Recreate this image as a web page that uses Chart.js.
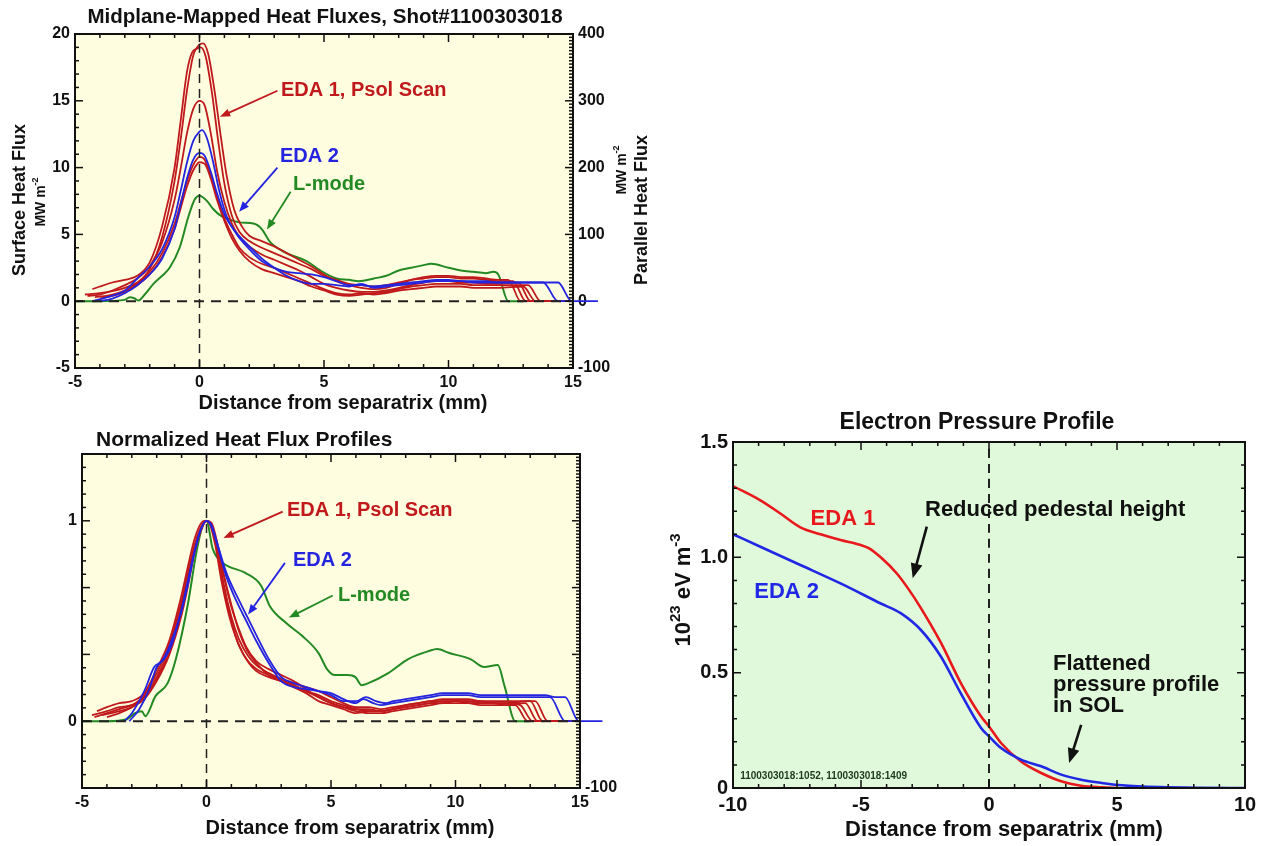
<!DOCTYPE html>
<html>
<head>
<meta charset="utf-8">
<script src="https://cdn.jsdelivr.net/npm/chart.js@4.4.1/dist/chart.umd.min.js"></script>
<style>
    body { margin: 0; background: #fff; width: 1272px; height: 846px; position: relative; overflow: hidden; }
    canvas { position: absolute; }
</style>
</head>
<body>
<canvas id="flujoSuperficie" width="660" height="420" style="left:0;top:0"></canvas>
<canvas id="flujoNormalizado" width="660" height="426" style="left:0;top:420px"></canvas>
<canvas id="presionElectronica" width="632" height="446" style="left:640px;top:400px"></canvas>
<script>
// Flujos de calor mapeados al plano medio (MW m^-2), pares [distancia mm, valor]
const psol1 = [[-4.6,0.5],[-4,0.6],[-3.5,0.75],[-3,1.0],[-2.5,1.4],[-2,2.4],[-1.5,4.8],[-1,9.0],[-0.75,12.2],[-0.5,15.8],[-0.25,18.4],[0,19.2],[0.15,19.3],[0.35,18.5],[0.6,15.8],[0.85,12.4],[1.1,9.3],[1.4,6.8],[1.7,5.6],[2,4.9],[2.5,4.5],[3,4.1],[3.5,3.6],[4,3.1],[4.5,2.6],[5,2.0],[5.5,1.5],[6,1.2],[6.5,1.0],[7,0.9],[7.5,1.0],[8,1.3],[8.5,1.6],[9,1.8],[9.5,1.9],[10,1.9],[10.5,1.8],[11,1.8],[11.5,1.7],[12,1.6],[12.4,1.6],[12.9,0],[15,0]];
const psol2 = [[-4.3,0.9],[-4,1.1],[-3.5,1.4],[-3,1.6],[-2.5,1.9],[-2,2.9],[-1.5,5.6],[-1,10.0],[-0.75,13.6],[-0.5,17.2],[-0.3,18.6],[-0.1,18.9],[0.05,19.0],[0.25,18.3],[0.5,15.6],[0.75,12.0],[1,8.8],[1.3,6.4],[1.6,5.2],[2,4.5],[2.5,4.0],[3,3.6],[3.5,3.2],[4,2.8],[4.5,2.4],[5,1.9],[5.5,1.6],[6,1.3],[6.5,1.2],[7,1.1],[7.5,1.2],[8,1.4],[8.5,1.6],[9,1.7],[9.5,1.8],[10,1.8],[10.5,1.7],[11,1.7],[11.5,1.6],[12,1.5],[12.6,1.5],[13.1,0],[15,0]];
const psol3 = [[-4.5,0.4],[-4,0.5],[-3.5,0.8],[-3,1.2],[-2.5,1.7],[-2,2.6],[-1.5,4.4],[-1,7.6],[-0.75,10.0],[-0.5,12.6],[-0.25,14.4],[0,15.0],[0.2,14.7],[0.45,12.6],[0.7,9.8],[1,7.4],[1.3,5.8],[1.6,4.8],[2,4.1],[2.5,3.5],[3,3.1],[3.5,2.7],[4,2.3],[4.5,1.8],[5,1.3],[5.5,1.0],[6,0.8],[6.5,0.7],[7,0.7],[7.5,0.8],[8,1.0],[8.5,1.2],[9,1.4],[9.5,1.5],[10,1.5],[10.5,1.4],[11,1.4],[11.5,1.3],[12,1.3],[12.8,1.4],[13.3,0],[15,0]];
const psol4 = [[-4.2,0.3],[-3.5,0.5],[-3,0.8],[-2.5,1.3],[-2,2.2],[-1.5,3.6],[-1,5.8],[-0.75,7.4],[-0.5,9.0],[-0.25,10.2],[0,10.8],[0.2,10.6],[0.45,9.4],[0.7,7.8],[1,6.2],[1.3,5.0],[1.6,4.0],[2,3.3],[2.5,2.8],[3,2.5],[3.5,2.1],[4,1.7],[4.5,1.3],[5,0.9],[5.5,0.6],[6,0.5],[6.5,0.6],[7,0.5],[7.5,0.6],[8,0.8],[8.5,0.9],[9,1.0],[9.5,1.1],[10,1.1],[10.5,1.1],[11,1.0],[11.5,1.0],[12,1.0],[13.0,1.1],[13.5,0],[15,0]];
const psol5 = [[-4.0,0.2],[-3.5,0.4],[-3,0.7],[-2.5,1.2],[-2,2.0],[-1.5,3.3],[-1,5.4],[-0.75,7.0],[-0.5,8.6],[-0.25,9.8],[0,10.4],[0.2,10.3],[0.45,9.2],[0.7,7.6],[1,6.0],[1.3,4.7],[1.6,3.8],[2,3.0],[2.5,2.4],[3,2.1],[3.5,1.8],[4,1.5],[4.5,1.1],[5,0.8],[5.5,0.5],[6,0.4],[6.5,0.5],[7,0.6],[7.5,0.7],[8,0.9],[8.5,1.1],[9,1.2],[9.5,1.3],[10,1.3],[10.5,1.3],[11,1.2],[11.5,1.2],[12,1.2],[13.2,1.2],[13.7,0],[15,0]];
const eda2a = [[-4.3,0],[-3.7,0.3],[-3,0.8],[-2.5,1.7],[-2,2.6],[-1.5,3.9],[-1,6.3],[-0.75,8.3],[-0.5,10.4],[-0.25,12.0],[0,12.7],[0.1,12.8],[0.3,12.2],[0.55,10.4],[0.8,8.2],[1.1,6.3],[1.5,5.0],[2,3.9],[2.5,3.0],[3,2.5],[3.5,2.2],[4,2.1],[4.5,2.0],[5,1.8],[5.5,1.5],[6,1.2],[6.5,1.2],[7,1.1],[7.5,1.2],[8,1.3],[8.5,1.4],[9,1.5],[9.5,1.6],[10,1.6],[10.5,1.5],[11,1.5],[11.5,1.5],[12,1.4],[13,1.4],[13.8,1.4],[14.4,0],[15,0]];
const eda2b = [[-4,0],[-3.5,0.2],[-3,0.6],[-2.5,1.2],[-2,2.0],[-1.5,3.2],[-1,5.4],[-0.75,7.3],[-0.5,9.2],[-0.25,10.6],[0,11.1],[0.2,10.9],[0.45,9.7],[0.7,8.1],[1,6.5],[1.4,5.3],[2,4.1],[2.5,3.2],[3,2.5],[3.5,1.9],[4,1.5],[4.5,1.3],[5,1.3],[5.5,1.2],[6,1.1],[6.5,1.3],[7,1.0],[7.5,1.1],[8,1.2],[8.5,1.3],[9,1.4],[9.5,1.5],[10,1.5],[10.5,1.5],[11,1.4],[11.5,1.4],[12,1.4],[13,1.4],[14.4,1.4],[14.95,0],[16,0]];
const lmodo = [[-5,0],[-4,0],[-3,0.1],[-2.8,0.3],[-2.6,0.2],[-2.45,0.05],[-2.2,0.5],[-1.85,1.3],[-1.5,1.9],[-1.2,2.5],[-0.8,4.0],[-0.45,6.3],[-0.2,7.6],[0,7.9],[0.3,7.5],[0.55,6.9],[0.85,6.4],[1.1,6.2],[1.6,5.9],[2.2,5.8],[2.5,5.4],[2.85,4.4],[3.5,3.6],[4.3,3.0],[4.85,2.3],[5.5,1.7],[6,1.6],[6.4,1.5],[7,1.7],[7.5,1.9],[8,2.3],[8.5,2.5],[9,2.7],[9.3,2.8],[10,2.5],[10.5,2.3],[11,2.2],[11.5,2.1],[11.8,2.2],[12,2.0],[12.4,0],[13,0]];

// Perfiles normalizados al pico
const psol1N = [[-4.6,0.03],[-4,0.05],[-3.5,0.07],[-3,0.08],[-2.5,0.13],[-2,0.24],[-1.5,0.38],[-1,0.6],[-0.75,0.74],[-0.5,0.87],[-0.25,0.96],[0,1.0],[0.2,0.97],[0.45,0.84],[0.7,0.66],[1,0.5],[1.3,0.38],[1.7,0.29],[2,0.25],[2.5,0.22],[3,0.2],[3.5,0.18],[4,0.15],[4.5,0.13],[5,0.1],[5.5,0.08],[6,0.06],[6.5,0.05],[7,0.05],[7.5,0.06],[8,0.07],[8.5,0.08],[9,0.09],[9.5,0.09],[10,0.1],[10.5,0.09],[11,0.09],[11.5,0.09],[12,0.08],[12.4,0.08],[12.9,0],[15,0]];
const psol2N = [[-4.4,0.05],[-4,0.07],[-3.5,0.09],[-3,0.1],[-2.5,0.14],[-2,0.26],[-1.5,0.4],[-1,0.63],[-0.75,0.77],[-0.5,0.9],[-0.3,0.97],[-0.1,1.0],[0.1,0.99],[0.35,0.88],[0.6,0.7],[0.9,0.53],[1.2,0.41],[1.6,0.31],[2,0.26],[2.5,0.23],[3,0.21],[3.5,0.19],[4,0.17],[4.5,0.15],[5,0.12],[5.5,0.09],[6,0.07],[6.5,0.07],[7,0.06],[7.5,0.07],[8,0.08],[8.5,0.09],[9,0.1],[9.5,0.1],[10,0.1],[10.5,0.1],[11,0.1],[11.5,0.09],[12,0.09],[12.6,0.08],[13.1,0],[15,0]];
const psol3N = [[-4.5,0.02],[-4,0.04],[-3.5,0.06],[-3,0.08],[-2.5,0.12],[-2,0.22],[-1.5,0.36],[-1,0.58],[-0.75,0.72],[-0.5,0.86],[-0.25,0.96],[0,1.0],[0.2,0.98],[0.45,0.86],[0.7,0.68],[1,0.52],[1.3,0.41],[1.7,0.32],[2,0.28],[2.5,0.24],[3,0.21],[3.5,0.18],[4,0.15],[4.5,0.12],[5,0.09],[5.5,0.07],[6,0.05],[6.5,0.04],[7,0.04],[7.5,0.05],[8,0.06],[8.5,0.07],[9,0.08],[9.5,0.09],[10,0.09],[10.5,0.09],[11,0.08],[11.5,0.08],[12,0.08],[12.8,0.09],[13.3,0],[15,0]];
const psol4N = [[-4.2,0.03],[-3.5,0.05],[-3,0.07],[-2.5,0.12],[-2,0.21],[-1.5,0.34],[-1,0.55],[-0.75,0.69],[-0.5,0.84],[-0.25,0.95],[0,1.0],[0.2,0.98],[0.45,0.87],[0.7,0.72],[1,0.57],[1.3,0.46],[1.6,0.37],[2,0.3],[2.5,0.26],[3,0.23],[3.5,0.2],[4,0.16],[4.5,0.12],[5,0.09],[5.5,0.07],[6,0.06],[6.5,0.06],[7,0.05],[7.5,0.06],[8,0.07],[8.5,0.08],[9,0.09],[9.5,0.1],[10,0.1],[10.5,0.1],[11,0.09],[11.5,0.09],[12,0.09],[13,0.1],[13.5,0],[15,0]];
const psol5N = [[-4,0.02],[-3.5,0.04],[-3,0.07],[-2.5,0.11],[-2,0.2],[-1.5,0.33],[-1,0.53],[-0.75,0.67],[-0.5,0.83],[-0.25,0.94],[0,1.0],[0.2,0.99],[0.45,0.88],[0.7,0.73],[1,0.58],[1.3,0.45],[1.6,0.36],[2,0.29],[2.5,0.23],[3,0.2],[3.5,0.17],[4,0.14],[4.5,0.1],[5,0.08],[5.5,0.06],[6,0.04],[6.5,0.05],[7,0.05],[7.5,0.06],[8,0.08],[8.5,0.09],[9,0.1],[9.5,0.11],[10,0.11],[10.5,0.11],[11,0.1],[11.5,0.1],[12,0.1],[13.2,0.1],[13.7,0],[15,0]];
const eda2aN = [[-3.3,0],[-3,0.04],[-2.5,0.15],[-2.1,0.27],[-1.8,0.3],[-1.5,0.37],[-1,0.55],[-0.75,0.68],[-0.5,0.83],[-0.25,0.95],[0,1.0],[0.2,0.97],[0.45,0.87],[0.8,0.72],[1.2,0.6],[1.6,0.5],[2,0.4],[2.5,0.29],[3,0.2],[3.5,0.17],[4,0.16],[4.5,0.15],[5,0.14],[5.5,0.11],[6,0.09],[6.3,0.11],[6.7,0.09],[7,0.08],[7.5,0.09],[8,0.1],[8.5,0.11],[9,0.12],[9.5,0.13],[10,0.13],[10.5,0.13],[11,0.12],[11.5,0.12],[12,0.12],[13,0.12],[13.8,0.12],[14.4,0],[15,0]];
const eda2bN = [[-3.1,0],[-2.7,0.06],[-2.3,0.16],[-2,0.27],[-1.7,0.31],[-1.4,0.38],[-1,0.56],[-0.75,0.7],[-0.5,0.84],[-0.25,0.95],[0,1.0],[0.2,0.98],[0.45,0.88],[0.8,0.74],[1.2,0.63],[1.6,0.53],[2,0.43],[2.5,0.31],[3,0.22],[3.5,0.19],[4,0.17],[4.5,0.15],[5,0.13],[5.5,0.1],[6,0.1],[6.4,0.12],[6.8,0.1],[7.2,0.09],[7.5,0.1],[8,0.11],[8.5,0.12],[9,0.13],[9.5,0.14],[10,0.14],[10.5,0.14],[11,0.13],[11.5,0.13],[12,0.13],[13,0.13],[13.6,0.13],[14,0.12],[14.4,0.12],[14.95,0],[15.9,0]];
const lmodoN = [[-5,0],[-4,0],[-3.2,0.01],[-2.87,0.04],[-2.6,0.05],[-2.46,0.025],[-2.05,0.125],[-1.56,0.19],[-1.23,0.31],[-0.74,0.59],[-0.41,0.84],[-0.16,0.975],[0,1.0],[0.25,0.86],[0.66,0.79],[1.56,0.74],[2.2,0.675],[2.54,0.575],[3.2,0.49],[3.85,0.425],[4.5,0.34],[4.84,0.26],[5.16,0.23],[5.66,0.23],[5.98,0.22],[6.23,0.18],[6.5,0.19],[7.3,0.24],[8.1,0.31],[8.93,0.35],[9.26,0.36],[9.75,0.34],[10.6,0.31],[11.15,0.27],[11.7,0.28],[11.97,0.175],[12.4,0],[13,0]];

// Presion electronica (10^23 eV m^-3)
const presionEda1 = [[-10,1.309],[-8.93,1.247],[-8.15,1.19],[-7.37,1.13],[-6.58,1.10],[-5.8,1.075],[-5.0,1.053],[-4.7,1.04],[-4.23,1.0],[-3.6,0.93],[-3.13,0.86],[-2.66,0.78],[-1.88,0.63],[-1.1,0.455],[-0.31,0.31],[0,0.267],[0.47,0.195],[1.25,0.115],[2.04,0.065],[2.82,0.029],[3.6,0.01],[4.4,0.003],[5,0]];
const presionEda2 = [[-10,1.1],[-8.93,1.046],[-7.37,0.967],[-5.8,0.887],[-4.23,0.8],[-3.45,0.758],[-2.66,0.685],[-1.88,0.57],[-1.1,0.41],[-0.31,0.26],[0,0.224],[0.47,0.173],[1.25,0.123],[2.04,0.094],[2.82,0.058],[3.6,0.036],[4.4,0.022],[5.2,0.012],[6.7,0.004],[8.3,0.001],[10,0]];

// Etiquetas de ticks
const ticksDistancia = [-5, 0, 5, 10, 15];
const ticksPresionX = [-10, -5, 0, 5, 10];

const rojoOscuro = '#c0191c';
const azul = '#2424e0';
const verde = '#238a23';
const familia = '"Liberation Sans", Arial, Helvetica, sans-serif';
const fuente = tam => 'bold ' + tam + 'px ' + familia;

// Flecha con punta rellena
function dibujarFlecha(ctx, x1, y1, x2, y2, color, ancho, punta) {
    const ang = Math.atan2(y2 - y1, x2 - x1);
    ctx.strokeStyle = color;
    ctx.fillStyle = color;
    ctx.lineWidth = ancho;
    ctx.beginPath();
    ctx.moveTo(x1, y1);
    ctx.lineTo(x2 - Math.cos(ang) * punta * 0.7, y2 - Math.sin(ang) * punta * 0.7);
    ctx.stroke();
    ctx.beginPath();
    ctx.moveTo(x2, y2);
    ctx.lineTo(x2 - punta * Math.cos(ang - 0.38), y2 - punta * Math.sin(ang - 0.38));
    ctx.lineTo(x2 - punta * Math.cos(ang + 0.38), y2 - punta * Math.sin(ang + 0.38));
    ctx.closePath();
    ctx.fill();
}

// Texto con partes de distinto tamaño (exponentes), opcionalmente girado
function dibujarRotulo(ctx, r) {
    ctx.save();
    ctx.translate(r.x, r.y);
    if (r.giro) ctx.rotate(-Math.PI / 2);
    ctx.fillStyle = r.color || '#111';
    ctx.textBaseline = 'middle';
    ctx.textAlign = 'left';
    let total = 0;
    const anchos = r.partes.map(p => {
        ctx.font = fuente(p.tam);
        const w = ctx.measureText(p.t).width;
        total += w;
        return w;
    });
    let cx = r.alinear === 'left' ? 0 : -total / 2;
    r.partes.forEach((p, i) => {
        ctx.font = fuente(p.tam);
        ctx.fillText(p.t, cx, -(p.sube || 0));
        cx += anchos[i];
    });
    ctx.restore();
}

// Fondo, marco con ticks hacia dentro, anotaciones y rotulos
const decoracion = {
    id: 'deco',
    beforeDatasetsDraw(chart, args, opts) {
        const { ctx, chartArea: a } = chart;
        ctx.save();
        ctx.fillStyle = opts.fondo;
        ctx.fillRect(a.left, a.top, a.right - a.left, a.bottom - a.top);
        ctx.restore();
    },
    afterDatasetsDraw(chart, args, opts) {
        const { ctx, chartArea: a } = chart;
        ctx.save();
        ctx.strokeStyle = '#111';
        ctx.lineWidth = 2;
        ctx.strokeRect(a.left, a.top, a.right - a.left, a.bottom - a.top);
        ctx.lineWidth = 1.5;
        (opts.marcas || []).forEach(m => {
            const s = chart.scales[m.eje];
            const n = Math.round((s.max - s.min) / m.menor);
            for (let i = 0; i <= n; i++) {
                const v = s.min + i * m.menor;
                const q = v / m.mayor;
                const largo = Math.abs(q - Math.round(q)) < 1e-6 ? 8 : 4;
                const p = s.getPixelForValue(v);
                ctx.beginPath();
                m.lados.forEach(lado => {
                    if (lado === 'bottom') { ctx.moveTo(p, a.bottom); ctx.lineTo(p, a.bottom - largo); }
                    if (lado === 'top') { ctx.moveTo(p, a.top); ctx.lineTo(p, a.top + largo); }
                    if (lado === 'left') { ctx.moveTo(a.left, p); ctx.lineTo(a.left + largo, p); }
                    if (lado === 'right') { ctx.moveTo(a.right, p); ctx.lineTo(a.right - largo, p); }
                });
                ctx.stroke();
            }
        });
        const sx = chart.scales.x, sy = chart.scales.y;
        (opts.flechas || []).forEach(f => {
            dibujarFlecha(ctx, sx.getPixelForValue(f.de[0]), sy.getPixelForValue(f.de[1]),
                sx.getPixelForValue(f.a[0]), sy.getPixelForValue(f.a[1]), f.color, f.ancho, f.punta);
        });
        (opts.textos || []).forEach(t => {
            ctx.font = fuente(t.tam);
            ctx.fillStyle = t.color;
            ctx.textAlign = 'left';
            ctx.textBaseline = 'middle';
            ctx.fillText(t.texto, sx.getPixelForValue(t.x), sy.getPixelForValue(t.y));
        });
        ctx.restore();
        (opts.rotulos || []).forEach(r => dibujarRotulo(ctx, r));
    }
};

function serie(datos, color, ancho, extra) {
    return Object.assign({
        data: datos,
        borderColor: color,
        borderWidth: ancho,
        pointRadius: 0,
        fill: false,
        cubicInterpolationMode: 'monotone'
    }, extra || {});
}

function ejeLineal(pos, min, max, paso, tam, ajuste, extra) {
    return Object.assign({
        type: 'linear',
        position: pos,
        min: min,
        max: max,
        afterFit: ajuste,
        ticks: { stepSize: paso, padding: 5, autoSkip: false, maxRotation: 0, color: '#111', font: { family: familia, size: tam, weight: 'bold' } },
        grid: { display: false, drawTicks: false },
        border: { display: false }
    }, extra || {});
}

function crearGrafico(id, conjuntos, escalas, deco, relleno) {
    return new Chart(document.getElementById(id), {
        type: 'line',
        data: { datasets: conjuntos },
        options: {
            responsive: false,
            animation: false,
            layout: { padding: relleno },
            plugins: { legend: { display: false }, tooltip: { enabled: false }, deco: deco },
            scales: escalas
        },
        plugins: [decoracion]
    });
}

const soloTicks = lista => s => { s.ticks = lista.map(v => ({ value: v })); };

// Panel superior: flujos de calor
crearGrafico('flujoSuperficie', [
    serie([[0, -5], [0, 20]], '#222', 1.5, { borderDash: [9, 6] }),
    serie([[-5, 0], [15, 0]], '#222', 2, { borderDash: [10, 7] }),
    serie(eda2a, azul, 1.8, { clip: false }),
    serie(eda2b, azul, 1.8, { clip: false }),
    serie(psol1, rojoOscuro, 1.8),
    serie(psol2, rojoOscuro, 1.8),
    serie(psol3, rojoOscuro, 1.8),
    serie(psol4, rojoOscuro, 1.8),
    serie(psol5, rojoOscuro, 1.8),
    serie(lmodo, verde, 2)
], {
    x: ejeLineal('bottom', -5, 15, 5, 16, s => { s.height = 52; }, { afterBuildTicks: soloTicks(ticksDistancia) }),
    y: ejeLineal('left', -5, 20, 5, 16, s => { s.width = 75; }),
    y2: ejeLineal('right', -100, 400, 100, 16, s => { s.width = 87; })
}, {
    fondo: '#fffde0',
    marcas: [
        { eje: 'x', lados: ['bottom', 'top'], mayor: 5, menor: 1 },
        { eje: 'y', lados: ['left'], mayor: 5, menor: 1 },
        { eje: 'y2', lados: ['right'], mayor: 100, menor: 5 }
    ],
    textos: [
        { texto: 'EDA 1, Psol Scan', x: 3.27, y: 15.75, color: rojoOscuro, tam: 20 },
        { texto: 'EDA 2', x: 3.23, y: 10.8, color: azul, tam: 20 },
        { texto: 'L-mode', x: 3.75, y: 8.73, color: verde, tam: 20 }
    ],
    flechas: [
        { de: [3.13, 15.75], a: [0.82, 13.8], color: rojoOscuro, ancho: 1.8, punta: 11 },
        { de: [3.13, 10.0], a: [1.59, 6.7], color: azul, ancho: 1.8, punta: 11 },
        { de: [3.66, 8.2], a: [2.71, 5.37], color: verde, ancho: 1.8, punta: 11 }
    ],
    rotulos: [
        { partes: [{ t: 'Midplane-Mapped Heat Fluxes, Shot#1100303018', tam: 20.5 }], x: 325, y: 17 },
        { partes: [{ t: 'Distance from separatrix (mm)', tam: 20 }], x: 343, y: 403 },
        { partes: [{ t: 'Surface Heat Flux', tam: 18 }], x: 20, y: 200, giro: true },
        { partes: [{ t: 'MW m', tam: 14 }, { t: '-2', tam: 9, sube: 5 }], x: 41, y: 202, giro: true },
        { partes: [{ t: 'MW m', tam: 14 }, { t: '-2', tam: 9, sube: 5 }], x: 622, y: 170, giro: true },
        { partes: [{ t: 'Parallel Heat Flux', tam: 18 }], x: 642, y: 210, giro: true }
    ]
}, { top: 34, left: 0, right: 0, bottom: 0 });

// Panel inferior izquierdo: perfiles normalizados
crearGrafico('flujoNormalizado', [
    serie([[0, -1 / 3], [0, 4 / 3]], '#222', 1.5, { borderDash: [9, 6] }),
    serie([[-5, 0], [15, 0]], '#222', 2, { borderDash: [10, 7] }),
    serie(eda2aN, azul, 1.8, { clip: false }),
    serie(eda2bN, azul, 1.8, { clip: false }),
    serie(psol1N, rojoOscuro, 1.8),
    serie(psol2N, rojoOscuro, 1.8),
    serie(psol3N, rojoOscuro, 1.8),
    serie(psol4N, rojoOscuro, 1.8),
    serie(psol5N, rojoOscuro, 1.8),
    serie(lmodoN, verde, 2)
], {
    x: ejeLineal('bottom', -5, 15, 5, 16, s => { s.height = 58; }, { afterBuildTicks: soloTicks(ticksDistancia) }),
    y: ejeLineal('left', -1 / 3, 4 / 3, 1 / 3, 16, s => { s.width = 82; }, { afterBuildTicks: soloTicks([0, 1]) }),
    y2: ejeLineal('right', -100, 400, 100, 16, s => { s.width = 80; }, { afterBuildTicks: soloTicks([-100]) })
}, {
    fondo: '#fffde0',
    marcas: [
        { eje: 'x', lados: ['bottom', 'top'], mayor: 5, menor: 1 },
        { eje: 'y', lados: ['left'], mayor: 1 / 3, menor: 1 / 15 },
        { eje: 'y2', lados: ['right'], mayor: 100, menor: 5 }
    ],
    textos: [
        { texto: 'EDA 1, Psol Scan', x: 3.23, y: 1.049, color: rojoOscuro, tam: 20 },
        { texto: 'EDA 2', x: 3.47, y: 0.8025, color: azul, tam: 20 },
        { texto: 'L-mode', x: 5.28, y: 0.627, color: verde, tam: 20 }
    ],
    flechas: [
        { de: [3.06, 1.046], a: [0.68, 0.914], color: rojoOscuro, ancho: 1.8, punta: 11 },
        { de: [3.15, 0.79], a: [1.67, 0.532], color: azul, ancho: 1.8, punta: 11 },
        { de: [5.07, 0.627], a: [3.31, 0.517], color: verde, ancho: 1.8, punta: 11 }
    ],
    rotulos: [
        { partes: [{ t: 'Normalized Heat Flux Profiles', tam: 21 }], x: 96, y: 20, alinear: 'left' },
        { partes: [{ t: 'Distance from separatrix (mm)', tam: 20 }], x: 350, y: 408 }
    ]
}, { top: 34, left: 0, right: 0, bottom: 0 });

// Panel derecho: perfil de presion electronica
crearGrafico('presionElectronica', [
    serie([[0, 0], [0, 1.5]], '#222', 2, { borderDash: [9, 6] }),
    serie(presionEda2, '#2028e6', 2.6),
    serie(presionEda1, '#e8181c', 2.6)
], {
    x: ejeLineal('bottom', -10, 10, 5, 20, s => { s.height = 58; }, { afterBuildTicks: soloTicks(ticksPresionX) }),
    y: ejeLineal('left', 0, 1.5, 0.5, 20, s => { s.width = 93; }, {
        ticks: { stepSize: 0.5, padding: 5, autoSkip: false, color: '#111', font: { family: familia, size: 20, weight: 'bold' },
            callback: v => v === 0 ? '0' : v.toFixed(1) }
    })
}, {
    fondo: '#e0f9da',
    marcas: [
        { eje: 'x', lados: ['bottom', 'top'], mayor: 5, menor: 1 },
        { eje: 'y', lados: ['left', 'right'], mayor: 0.5, menor: 0.1 }
    ],
    textos: [
        { texto: 'EDA 1', x: -6.97, y: 1.165, color: '#e8181c', tam: 22 },
        { texto: 'EDA 2', x: -9.17, y: 0.85, color: '#2028e6', tam: 22 },
        { texto: 'Reduced pedestal height', x: -2.5, y: 1.205, color: '#111', tam: 22 },
        { texto: 'Flattened', x: 2.5, y: 0.54, color: '#111', tam: 22 },
        { texto: 'pressure profile', x: 2.5, y: 0.447, color: '#111', tam: 22 },
        { texto: 'in SOL', x: 2.5, y: 0.354, color: '#111', tam: 22 },
        { texto: '1100303018:1052, 1100303018:1409', x: -9.72, y: 0.05, color: '#1b3a1b', tam: 10 }
    ],
    flechas: [
        { de: [-2.43, 1.133], a: [-2.98, 0.909], color: '#111', ancho: 2.6, punta: 16 },
        { de: [3.6, 0.274], a: [3.13, 0.108], color: '#111', ancho: 2.6, punta: 16 }
    ],
    rotulos: [
        { partes: [{ t: 'Electron Pressure Profile', tam: 23 }], x: 337, y: 23 },
        { partes: [{ t: 'Distance from separatrix (mm)', tam: 22 }], x: 364, y: 430 },
        { partes: [{ t: '10', tam: 22 }, { t: '23', tam: 15, sube: 8 }, { t: ' eV m', tam: 22 }, { t: '-3', tam: 15, sube: 8 }], x: 44, y: 190, giro: true }
    ]
}, { top: 42, left: 0, right: 27, bottom: 0 });
</script>
</body>
</html>
